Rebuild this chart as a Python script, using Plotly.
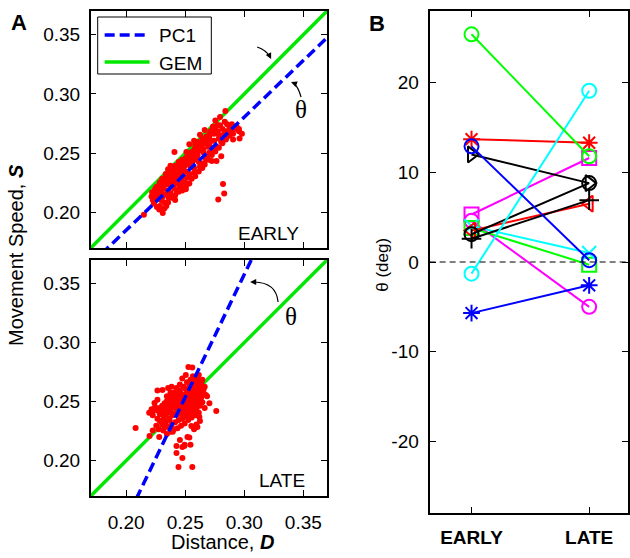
import plotly.graph_objects as go

W, H = 630, 558

# ---------------- Panel A data ----------------
D_early = [0.2150, 0.2225, 0.2215, 0.2240, 0.2235, 0.2260, 0.2280, 0.2310, 0.2300, 0.2265,
           0.2255, 0.2280, 0.2295, 0.2310, 0.2325, 0.2340, 0.2335, 0.2315, 0.2305, 0.2325,
           0.2345, 0.2355, 0.2360, 0.2375, 0.2385, 0.2370, 0.2350, 0.2335, 0.2365, 0.2385,
           0.2395, 0.2405, 0.2415, 0.2425, 0.2435, 0.2415, 0.2405, 0.2395, 0.2415, 0.2435,
           0.2445, 0.2455, 0.2465, 0.2475, 0.2485, 0.2465, 0.2455, 0.2445, 0.2475, 0.2495,
           0.2505, 0.2515, 0.2525, 0.2505, 0.2535, 0.2545, 0.2525, 0.2515, 0.2545, 0.2565,
           0.2575, 0.2585, 0.2565, 0.2595, 0.2605, 0.2615, 0.2625, 0.2635, 0.2605, 0.2585,
           0.2655, 0.2665, 0.2645, 0.2685, 0.2695, 0.2705, 0.2725, 0.2715, 0.2745, 0.2755,
           0.2735, 0.2775, 0.2785, 0.2795, 0.2815, 0.2835, 0.2855, 0.2845, 0.2875, 0.2895,
           0.2915, 0.2935, 0.2955, 0.2865, 0.2805, 0.2765, 0.2745, 0.2705, 0.2685, 0.2655,
           0.2840, 0.2795, 0.2755, 0.2665, 0.2625, 0.2575, 0.2535, 0.2409, 0.2820, 0.2830,
           0.2780, 0.2725, 0.2765, 0.2805,
           0.2405, 0.2425, 0.2445, 0.2465, 0.2385, 0.2365, 0.2345, 0.2395, 0.2415, 0.2455,
           0.2435, 0.2485, 0.2495, 0.2455, 0.2425, 0.2375, 0.2355, 0.2325, 0.2305, 0.2285,
           0.2265, 0.2245, 0.2255, 0.2285, 0.2305, 0.2510, 0.2980, 0.2960, 0.2905, 0.2885,
           # upper edge of the band
           0.2220, 0.2260, 0.2290, 0.2315, 0.2340, 0.2365, 0.2390, 0.2425, 0.2450, 0.2475,
           0.2505, 0.2530, 0.2555, 0.2580, 0.2605, 0.2630, 0.2655, 0.2680, 0.2705, 0.2730,
           0.2775, 0.2685, 0.2445, 0.2355, 0.2275, 0.2245, 0.2585, 0.2545,
           # lower edge of the band
           0.2385, 0.2415, 0.2445, 0.2475, 0.2505, 0.2535, 0.2555, 0.2585, 0.2615, 0.2645,
           0.2665, 0.2695, 0.2725, 0.2755, 0.2785, 0.2815, 0.2845, 0.2875, 0.2905, 0.2955,
           0.2625, 0.2575, 0.2495, 0.2455, 0.2355, 0.2325, 0.2285, 0.2675,
           # fill
           0.2395, 0.2445, 0.2505, 0.2555, 0.2605, 0.2655, 0.2705, 0.2745, 0.2785, 0.2825,
           0.2605, 0.2565]
S_early = [0.1980, 0.2105, 0.2135, 0.2160, 0.2075, 0.2045, 0.2025, 0.1995, 0.2100, 0.2185,
           0.2215, 0.2220, 0.2165, 0.2135, 0.2085, 0.2055, 0.2155, 0.2205, 0.2245, 0.2275,
           0.2235, 0.2185, 0.2125, 0.2165, 0.2225, 0.2265, 0.2305, 0.2325, 0.2345, 0.2305,
           0.2265, 0.2205, 0.2145, 0.2185, 0.2245, 0.2285, 0.2325, 0.2365, 0.2395, 0.2345,
           0.2305, 0.2265, 0.2215, 0.2255, 0.2305, 0.2345, 0.2385, 0.2425, 0.2445, 0.2395,
           0.2345, 0.2295, 0.2245, 0.2195, 0.2325, 0.2385, 0.2425, 0.2465, 0.2485, 0.2435,
           0.2375, 0.2455, 0.2515, 0.2535, 0.2485, 0.2425, 0.2525, 0.2565, 0.2595, 0.2575,
           0.2505, 0.2585, 0.2625, 0.2615, 0.2555, 0.2645, 0.2605, 0.2685, 0.2665, 0.2715,
           0.2725, 0.2685, 0.2625, 0.2735, 0.2705, 0.2765, 0.2745, 0.2685, 0.2715, 0.2745,
           0.2705, 0.2725, 0.2705, 0.2645, 0.2595, 0.2555, 0.2525, 0.2505, 0.2475, 0.2415,
           0.2856, 0.2805, 0.2775, 0.2695, 0.2655, 0.2605, 0.2575, 0.2510, 0.2240, 0.2160,
           0.2110, 0.2435, 0.2435, 0.2475,
           0.2285, 0.2305, 0.2335, 0.2285, 0.2345, 0.2285, 0.2275, 0.2255, 0.2245, 0.2355,
           0.2395, 0.2365, 0.2425, 0.2425, 0.2365, 0.2395, 0.2365, 0.2245, 0.2195, 0.2145,
           0.2115, 0.2125, 0.2165, 0.2255, 0.2285, 0.2510, 0.2665, 0.2625, 0.2615, 0.2685,
           0.2170, 0.2210, 0.2250, 0.2280, 0.2305, 0.2320, 0.2350, 0.2375, 0.2410, 0.2425,
           0.2460, 0.2490, 0.2510, 0.2540, 0.2565, 0.2590, 0.2625, 0.2640, 0.2660, 0.2695,
           0.2735, 0.2605, 0.2365, 0.2295, 0.2225, 0.2195, 0.2525, 0.2475,
           0.2125, 0.2105, 0.2175, 0.2185, 0.2215, 0.2245, 0.2285, 0.2305, 0.2345, 0.2375,
           0.2405, 0.2445, 0.2485, 0.2515, 0.2545, 0.2585, 0.2615, 0.2655, 0.2665, 0.2685,
           0.2385, 0.2335, 0.2255, 0.2215, 0.2085, 0.2035, 0.2055, 0.2455,
           0.2285, 0.2285, 0.2405, 0.2435, 0.2445, 0.2535, 0.2565, 0.2605, 0.2655, 0.2655,
           0.2525, 0.2475]

D_late = [0.2475, 0.2455, 0.2495, 0.2435, 0.2515, 0.2465, 0.2485, 0.2445, 0.2505, 0.2525,
          0.2425, 0.2415, 0.2535, 0.2545, 0.2555, 0.2565, 0.2575, 0.2585, 0.2595, 0.2605,
          0.2615, 0.2625, 0.2635, 0.2615, 0.2595, 0.2585, 0.2565, 0.2545, 0.2525, 0.2505,
          0.2485, 0.2465, 0.2445, 0.2425, 0.2405, 0.2385, 0.2395, 0.2375, 0.2365, 0.2355,
          0.2345, 0.2335, 0.2325, 0.2315, 0.2295, 0.2285, 0.2265, 0.2255, 0.2275, 0.2305,
          0.2335, 0.2365, 0.2395, 0.2425, 0.2455, 0.2485, 0.2515, 0.2545, 0.2575, 0.2605,
          0.2635, 0.2655, 0.2645, 0.2665, 0.2625, 0.2595, 0.2565, 0.2535, 0.2505, 0.2475,
          0.2445, 0.2415, 0.2385, 0.2355, 0.2405, 0.2385, 0.2365, 0.2345, 0.2325, 0.2305,
          0.2285, 0.2265, 0.2245, 0.2225, 0.2215, 0.2195, 0.2265, 0.2355, 0.2385, 0.2425,
          0.2455, 0.2485, 0.2515, 0.2545, 0.2565, 0.2527, 0.2560, 0.2505, 0.2475, 0.2615,
          0.2645, 0.2665, 0.2685, 0.2705, 0.2763, 0.2080, 0.2198, 0.2280, 0.2225, 0.2315,
          0.2345, 0.2375, 0.2405, 0.2435, 0.2465, 0.2495, 0.2525, 0.2555, 0.2585, 0.2615,
          0.2519, 0.2476, 0.2426, 0.2476, 0.2443, 0.2560, 0.2495, 0.2455, 0.2545, 0.2535,
          0.2575, 0.2595, 0.2625, 0.2395, 0.2367, 0.2325, 0.2384, 0.2426, 0.2493, 0.2552,
          0.2603, 0.2620, 0.2223, 0.2240, 0.2308, 0.2265, 0.2655, 0.2675, 0.2640, 0.2600,
          # extra core density
          0.2395, 0.2425, 0.2455, 0.2505, 0.2535, 0.2555, 0.2495, 0.2515, 0.2445, 0.2475,
          0.2505, 0.2535, 0.2565, 0.2595, 0.2625, 0.2415, 0.2435, 0.2375, 0.2355, 0.2335,
          0.2305, 0.2285, 0.2345, 0.2375, 0.2405, 0.2445, 0.2485, 0.2525, 0.2565, 0.2605]
S_late = [0.2488, 0.2475, 0.2505, 0.2455, 0.2525, 0.2515, 0.2455, 0.2505, 0.2465, 0.2485,
          0.2485, 0.2445, 0.2545, 0.2515, 0.2565, 0.2535, 0.2585, 0.2555, 0.2605, 0.2575,
          0.2625, 0.2595, 0.2645, 0.2665, 0.2655, 0.2685, 0.2625, 0.2605, 0.2585, 0.2565,
          0.2545, 0.2565, 0.2545, 0.2535, 0.2515, 0.2495, 0.2455, 0.2425, 0.2465, 0.2405,
          0.2445, 0.2385, 0.2425, 0.2355, 0.2395, 0.2335, 0.2355, 0.2295, 0.2265, 0.2305,
          0.2325, 0.2355, 0.2385, 0.2395, 0.2415, 0.2405, 0.2425, 0.2455, 0.2485, 0.2505,
          0.2535, 0.2575, 0.2495, 0.2445, 0.2465, 0.2435, 0.2415, 0.2395, 0.2375, 0.2355,
          0.2345, 0.2325, 0.2305, 0.2285, 0.2575, 0.2555, 0.2525, 0.2505, 0.2485, 0.2465,
          0.2445, 0.2425, 0.2455, 0.2385, 0.2435, 0.2405, 0.2595, 0.2615, 0.2625, 0.2615,
          0.2645, 0.2625, 0.2665, 0.2685, 0.2715, 0.2793, 0.2790, 0.2725, 0.2695, 0.2725,
          0.2685, 0.2625, 0.2545, 0.2485, 0.2420, 0.2276, 0.2208, 0.2200, 0.2255, 0.2255,
          0.2225, 0.2245, 0.2265, 0.2275, 0.2295, 0.2315, 0.2345, 0.2365, 0.2385, 0.2405,
          0.2200, 0.2115, 0.2065, 0.2022, 0.1946, 0.1946, 0.2135, 0.2175, 0.2135, 0.2195,
          0.2265, 0.2305, 0.2335, 0.2245, 0.2344, 0.2285, 0.2260, 0.2124, 0.2124, 0.2293,
          0.2285, 0.2370, 0.2412, 0.2488, 0.2598, 0.2515, 0.2605, 0.2555, 0.2675, 0.2700,
          0.2535, 0.2565, 0.2595, 0.2605, 0.2625, 0.2645, 0.2485, 0.2505, 0.2465, 0.2435,
          0.2445, 0.2475, 0.2505, 0.2525, 0.2555, 0.2495, 0.2525, 0.2475, 0.2445, 0.2455,
          0.2425, 0.2395, 0.2545, 0.2575, 0.2395, 0.2395, 0.2385, 0.2405, 0.2445, 0.2465]

# fitted lines (slope, intercept)
gem_line = (1.0, 0.0)
pc1_early = (0.955, -0.0060)
pc1_late = (2.079, -0.2660)
ax_range = [0.17, 0.37]
ab_ticks = [0.20, 0.25, 0.30, 0.35]

# ---------------- Panel B data ----------------
conditions = ["EARLY", "LATE"]
theta_series = [
    # (early, late, colour, marker)  -- drawn in this order
    (5.3, 11.6, "#ff00ff", "square-open"),
    (4.6, -5.0, "#ff00ff", "circle-open"),
    (3.8, -0.3, "#00ff00", "square-open"),
    (4.0, 1.0, "#00ffff", "x-thin-open"),
    (3.5, 6.5, "#ff0000", "triangle-left-open"),
    (13.7, 13.3, "#ff0000", "asterisk-open"),
    (12.0, 8.8, "#000000", "triangle-right-open"),
    (2.6, 6.9, "#000000", "cross-thin-open"),
    (3.1, 8.8, "#000000", "circle-open"),
    (-1.3, 19.1, "#00ffff", "circle-open"),
    (25.4, 11.8, "#00ff00", "circle-open"),
    (12.9, 0.2, "#0000ff", "circle-open"),
    (-5.7, -2.6, "#0000ff", "asterisk-open"),
]
b_yticks = [-20, -10, 0, 10, 20]
b_yticklabels = ["-20", "-10", "0", "10", "20"]

FONT = "Liberation Sans, Arial, Helvetica, sans-serif"

def px(x):
    return x / W

def py(y):
    return 1 - y / H

fig = go.Figure()

def line_pts(slope, icpt):
    xs = list(ax_range)
    ys = [slope * x + icpt for x in xs]
    return xs, ys

GREEN = "#00e800"
DOT = dict(color="#ff0000", size=6)

# top panel (EARLY)
gx, gy = line_pts(*gem_line)
fig.add_trace(go.Scatter(x=gx, y=gy, mode="lines", line=dict(color=GREEN, width=3.5),
                         xaxis="x", yaxis="y", showlegend=False, hoverinfo="skip"))
fig.add_trace(go.Scatter(x=D_early, y=S_early, mode="markers", marker=DOT,
                         xaxis="x", yaxis="y", showlegend=False))
bx, by = line_pts(*pc1_early)
fig.add_trace(go.Scatter(x=bx, y=by, mode="lines", line=dict(color="#0000ff", width=3.5, dash="10px,5px"),
                         xaxis="x", yaxis="y", showlegend=False, hoverinfo="skip"))

# bottom panel (LATE)
fig.add_trace(go.Scatter(x=gx, y=gy, mode="lines", line=dict(color=GREEN, width=3.5),
                         xaxis="x2", yaxis="y2", showlegend=False, hoverinfo="skip"))
fig.add_trace(go.Scatter(x=D_late, y=S_late, mode="markers", marker=DOT,
                         xaxis="x2", yaxis="y2", showlegend=False))
bx2, by2 = line_pts(*pc1_late)
fig.add_trace(go.Scatter(x=bx2, y=by2, mode="lines", line=dict(color="#0000ff", width=3.5, dash="10px,5px"),
                         xaxis="x2", yaxis="y2", showlegend=False, hoverinfo="skip"))

# panel B
xpos = [1, 2]
for early, late, col, sym in theta_series:
    fig.add_trace(go.Scatter(x=xpos, y=[early, late], mode="lines+markers",
                             line=dict(color=col, width=2),
                             marker=dict(symbol=sym, size=14, color=col, line=dict(color=col, width=2)),
                             xaxis="x3", yaxis="y3", showlegend=False))

axis_common = dict(showline=True, linecolor="black", linewidth=1.5, mirror="ticks",
                   ticks="inside", ticklen=6, tickcolor="black", tickwidth=1.2,
                   showgrid=False, zeroline=False, tickfont=dict(family=FONT, size=19, color="black"))

fig.update_layout(
    width=W, height=H, autosize=False,
    margin=dict(l=0, r=0, t=0, b=0),
    paper_bgcolor="white", plot_bgcolor="white",
    xaxis=dict(domain=[px(91), px(328)], range=ax_range, tickvals=ab_ticks, showticklabels=False,
               anchor="y", **axis_common),
    yaxis=dict(domain=[py(248), py(11)], range=ax_range, tickvals=ab_ticks, tickformat=".2f",
               anchor="x", ticklabelstandoff=5, **axis_common),
    xaxis2=dict(domain=[px(91), px(328)], range=ax_range, tickvals=ab_ticks, tickformat=".2f",
                anchor="y2", ticklabelstandoff=8, **axis_common),
    yaxis2=dict(domain=[py(496), py(260)], range=ax_range, tickvals=ab_ticks, tickformat=".2f",
                anchor="x2", ticklabelstandoff=5, **axis_common),
    xaxis3=dict(domain=[px(431), 1.0], range=[0.644, 2.33], tickvals=xpos, ticktext=conditions,
                anchor="y3", ticklabelstandoff=6,
                **{**axis_common, "tickfont": dict(family=FONT, size=19, color="black", weight="bold"),
                   "linewidth": 2}),
    yaxis3=dict(domain=[py(513), py(11)], range=[-28, 28], tickvals=b_yticks, ticktext=b_yticklabels,
                anchor="x3", ticklabelstandoff=5, **{**axis_common, "linewidth": 2}),
)

shapes = []
annotations = []

# zero dashed line in panel B
shapes.append(dict(type="line", xref="x3 domain", yref="y3", x0=0, x1=1, y0=0, y1=0,
                   line=dict(color="black", width=1, dash="6px,4px")))

# custom legend in top panel
shapes.append(dict(type="rect", xref="paper", yref="paper", x0=px(98), x1=px(212), y0=py(74), y1=py(17),
                   line=dict(color="black", width=1), fillcolor="white", layer="above"))
shapes.append(dict(type="line", xref="paper", yref="paper", x0=px(105), x1=px(150), y0=py(35), y1=py(35),
                   line=dict(color="#0000ff", width=3.5, dash="10px,5px"), layer="above"))
shapes.append(dict(type="line", xref="paper", yref="paper", x0=px(105), x1=px(150), y0=py(62), y1=py(62),
                   line=dict(color=GREEN, width=3.5), layer="above"))

def text(x, y, s, size=19, xanchor="center", yanchor="middle", font=FONT, angle=0, weight="normal"):
    annotations.append(dict(xref="paper", yref="paper", x=px(x), y=py(y), text=s, showarrow=False,
                            xanchor=xanchor, yanchor=yanchor, textangle=angle,
                            font=dict(family=font, size=size, color="black", weight=weight)))

text(157, 36, "PC1", xanchor="left")
text(157, 63, "GEM", xanchor="left")
text(269, 233, "EARLY")
text(283, 480, "LATE")
text(19, 22, "A", size=22, weight="bold")
text(378, 24, "B", size=22, weight="bold")
text(223, 542, "Distance, <b><i>D</i></b>", size=20)
text(16, 255, "Movement Speed, <b><i>S</i></b>", size=20, angle=-90)
text(383, 265, "θ (deg)", size=17, angle=-90)
text(302, 110, "θ", size=25, font="Liberation Serif, Times New Roman, serif")
text(292, 316, "θ", size=25, font="Liberation Serif, Times New Roman, serif")

# curved arrows
def curve(x0, y0, cx, cy, x1, y1):
    shapes.append(dict(type="path", xref="paper", yref="paper",
                       path=f"M {px(x0)},{py(y0)} Q {px(cx)},{py(cy)} {px(x1)},{py(y1)}",
                       line=dict(color="black", width=1.2)))

def head(x, y, dx, dy):
    annotations.append(dict(xref="paper", yref="paper", x=px(x), y=py(y), ax=dx, ay=dy, text="",
                            showarrow=True, arrowhead=2, arrowsize=1, arrowwidth=1.2,
                            arrowcolor="black", standoff=0))

curve(258, 47, 267, 50, 271, 57)
head(272, 59, -3, -6)
curve(302, 97, 299, 86, 294, 83)
head(292, 82, 5, 2)
curve(279, 302, 277, 282, 254, 282)
head(251, 282, 7, 0)

fig.update_layout(shapes=shapes, annotations=annotations)

fig.write_html("out.html")
